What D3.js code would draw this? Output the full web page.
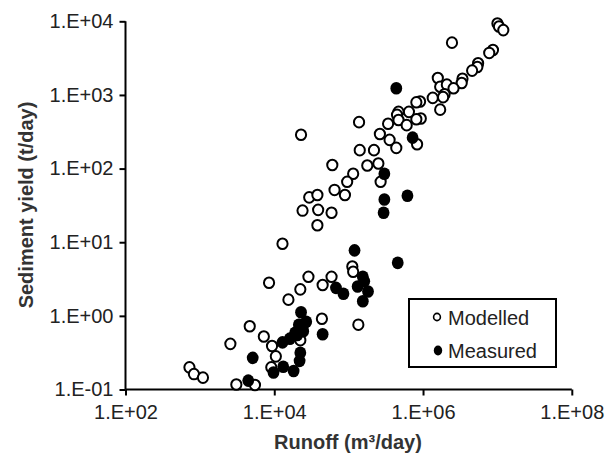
<!DOCTYPE html>
<html>
<head>
<meta charset="utf-8">
<script src="https://cdn.jsdelivr.net/npm/d3@7"></script>
<style>
  html, body { margin: 0; padding: 0; background: #fff; }
  svg { display: block; }
  text { font-family: "Liberation Sans", Arial, sans-serif; }
</style>
</head>
<body>
<svg id="chart" width="613" height="457"></svg>
<script>
// ---- data ----
const modelledRunoff = [
  1.00e7, 1.05e7, 1.20e7, 2.45e6, 8.71e6, 7.76e6, 5.50e6, 5.37e6, 4.57e6, 3.39e6,
  3.31e6, 1.58e6, 1.70e6, 2.09e6, 2.57e6, 1.95e6, 1.86e6, 1.35e6, 1.70e6, 9.12e5,
  8.13e5, 9.33e5, 8.13e5, 6.46e5, 4.68e5, 4.47e5, 4.68e5, 6.03e5, 3.39e5, 2.63e5,
  3.55e5, 4.37e5, 2.19e5, 1.41e5, 8.32e5, 1.38e5, 2.51e5, 1.78e5, 1.15e5, 9.55e4,
  8.91e4, 2.69e5, 6.03e4, 6.46e4, 2.29e4, 2.95e4, 3.80e4, 2.40e4, 3.89e4, 5.89e4,
  3.80e4, 1.29e4, 1.12e5, 1.15e5, 2.88e4, 5.89e4, 4.47e4, 2.24e4, 8.51e3, 1.55e4,
  1.35e5, 4.37e4, 4.68e3, 7.24e3, 2.57e3, 9.33e3, 1.05e4, 9.12e3, 2.24e4, 724,
  832, 1.10e3, 3.09e3, 5.50e3
];
const modelledSediment = [
  9330, 8510, 7590, 5130, 4070, 3720, 2690, 2400, 2140, 1660,
  1450, 1700, 1290, 1380, 1230, 1020, 933, 912, 631, 813,
  794, 479, 468, 589, 589, 537, 457, 389, 407, 295,
  245, 191, 178, 178, 214, 427, 117, 110, 85.1, 66.1,
  43.7, 66.1, 112, 51.3, 288, 40.7, 43.7, 26.9, 27.5, 25.1,
  17.0, 9.55, 4.68, 3.98, 3.39, 3.39, 2.63, 2.29, 2.82, 1.66,
  0.759, 0.912, 0.724, 0.525, 0.417, 0.389, 0.282, 0.200, 0.468, 0.200,
  0.162, 0.145, 0.117, 0.115
];
const measuredRunoff = [
  4.37e5, 7.24e5, 3.02e5, 6.17e5, 3.02e5, 2.95e5, 1.20e5, 4.57e5, 1.55e5, 1.62e5,
  1.32e5, 1.82e5, 1.55e5, 6.76e4, 8.51e4, 2.29e4, 2.69e4, 2.45e4, 1.91e4, 1.62e4,
  1.29e4, 4.47e4, 2.24e4, 2.19e4, 1.82e4, 1.32e4, 9.77e3, 5.13e3, 4.47e3, 2.14e4,
  2.40e4, 2.04e4
];
const measuredSediment = [
  1230, 263, 85.1, 42.7, 38.0, 25.1, 7.76, 5.25, 3.39, 2.95,
  2.51, 2.14, 1.58, 2.40, 2.00, 1.12, 0.832, 0.617, 0.589, 0.490,
  0.437, 0.562, 0.316, 0.245, 0.178, 0.204, 0.170, 0.269, 0.132, 0.759,
  0.692, 0.550
];
const xTickValues = [1e2, 1e4, 1e6, 1e8];
const yTickValues = [1e-1, 1e0, 1e1, 1e2, 1e3, 1e4];
const seriesNames = ["Modelled", "Measured"];
const xTitle = "Runoff (m\u00B3/day)";
const yTitle = "Sediment yield (t/day)";

// ---- layout ----
const svg = d3.select("#chart");
const x = d3.scaleLog().domain([1e2, 1e8]).range([125.5, 571.8]);
const y = d3.scaleLog().domain([1e-1, 1e4]).range([389.5, 21.3]);

const fmt = v => {
  const e = Math.round(Math.log10(v));
  return "1.E" + (e < 0 ? "-" : "+") + String(Math.abs(e)).padStart(2, "0");
};

const tickColor = "#222";

// y axis
const yAxis = svg.append("g")
  .attr("transform", `translate(${x.range()[0]},0)`)
  .call(d3.axisLeft(y).tickValues(yTickValues).tickFormat(fmt).tickSize(6).tickPadding(6));
// x axis
const xAxis = svg.append("g")
  .attr("transform", `translate(0,${y.range()[0]})`)
  .call(d3.axisBottom(x).tickValues(xTickValues).tickFormat(fmt).tickSize(6).tickPadding(9));

[yAxis, xAxis].forEach(g => {
  g.select(".domain").attr("stroke", "#000").attr("stroke-width", 2);
  g.selectAll(".tick line").attr("stroke", "#000").attr("stroke-width", 2);
  g.selectAll(".tick text")
    .attr("fill", tickColor)
    .style("font-family", '"Liberation Sans", Arial, sans-serif')
    .style("font-size", "20px");
});
yAxis.select(".domain").attr("d", `M0,${y.range()[0]}V${y.range()[1]}`);
xAxis.select(".domain").attr("d", `M${x.range()[0]},0H${x.range()[1]}`);

// titles
svg.append("text")
  .attr("x", 348).attr("y", 449)
  .attr("text-anchor", "middle")
  .attr("fill", "#333")
  .style("font-size", "20px").style("font-weight", "bold")
  .text(xTitle);
svg.append("text")
  .attr("transform", "translate(33,205) rotate(-90)")
  .attr("text-anchor", "middle")
  .attr("fill", "#333")
  .style("font-size", "20px").style("font-weight", "bold")
  .text(yTitle);

// points
const modelled = modelledRunoff.map((r, i) => ({ r, s: modelledSediment[i] }));
const measured = measuredRunoff.map((r, i) => ({ r, s: measuredSediment[i] }));

const plot = svg.append("g");
plot.selectAll("ellipse.mod").data(modelled).join("ellipse")
  .attr("class", "mod")
  .attr("cx", d => x(d.r)).attr("cy", d => y(d.s))
  .attr("rx", 5.1).attr("ry", 5.3)
  .attr("fill", "#fff").attr("stroke", "#000").attr("stroke-width", 2);
plot.selectAll("ellipse.mea").data(measured).join("ellipse")
  .attr("class", "mea")
  .attr("cx", d => x(d.r)).attr("cy", d => y(d.s))
  .attr("rx", 5.9).attr("ry", 6.3)
  .attr("fill", "#000").attr("stroke", "none");

// legend
const lg = svg.append("g");
lg.append("rect")
  .attr("x", 409).attr("y", 299).attr("width", 147).attr("height", 68)
  .attr("fill", "#fff").attr("stroke", "#000").attr("stroke-width", 2);
lg.append("ellipse").attr("cx", 437).attr("cy", 317).attr("rx", 3.4).attr("ry", 3.6)
  .attr("fill", "#fff").attr("stroke", "#000").attr("stroke-width", 1.6);
lg.append("ellipse").attr("cx", 438).attr("cy", 350.5).attr("rx", 4.2).attr("ry", 5)
  .attr("fill", "#000");
lg.selectAll("text.lab").data(seriesNames).join("text")
  .attr("class", "lab")
  .attr("x", 448).attr("y", (d, i) => i === 0 ? 324.5 : 357.5)
  .attr("fill", "#222")
  .style("font-size", "20px")
  .text(d => d);
</script>
</body>
</html>
